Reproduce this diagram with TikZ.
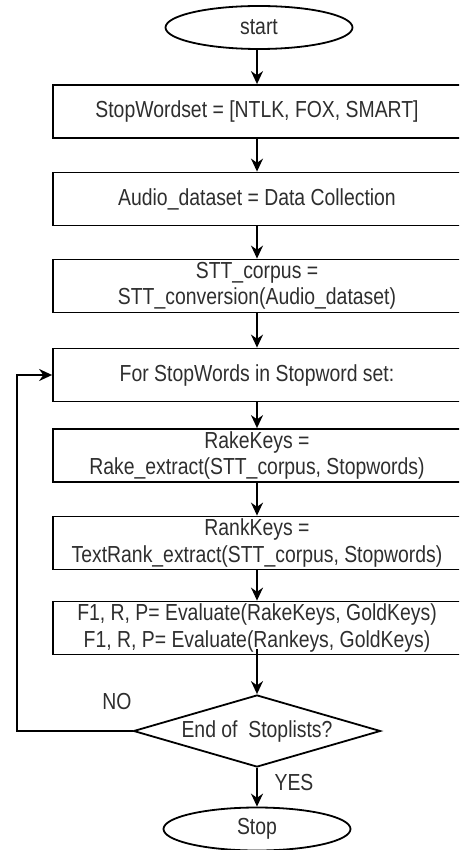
\documentclass[tikz,border=0pt]{standalone}
\usepackage{fontspec}
\setmainfont{Liberation Sans}
\newfontfamily\narrowfont[FakeStretch=0.836]{Liberation Sans}
\usetikzlibrary{shapes.geometric,arrows.meta}
\begin{document}
\begin{tikzpicture}[x=1pt,y=-1pt,
  txt/.style={font=\narrowfont\fontsize{23.2}{26.5}\selectfont, text=black!82},
  box/.style={txt, draw, line width=1.8pt, minimum width=408pt, minimum height=53pt, inner sep=0pt, align=center},
  term/.style={txt, ellipse, draw, line width=1.8pt, minimum width=187pt, minimum height=43pt, inner sep=0pt},
  dec/.style={txt, diamond, draw, line width=1.8pt, aspect=3.43, minimum width=247pt, minimum height=72pt, inner sep=0pt},
  arr/.style={-{Stealth[length=13pt,width=12pt]}, line width=1.8pt},
  lbl/.style={txt}]
\useasboundingbox (0,0) rectangle (459,850);
\clip (0,0) rectangle (459,850);
\node[term] (start) at (259,27.5) {start};
\node[box] (b1) at (257,111.5) {StopWordset = [NTLK, FOX, SMART]};
\node[box] (b2) at (257,199) {Audio\_dataset = Data Collection};
\node[box] (b3) at (257,286) {STT\_corpus =\\STT\_conversion(Audio\_dataset)};
\node[box] (b4) at (257,375) {For StopWords in Stopword set:};
\node[box] (b5) at (257,455.5) {RakeKeys =\\Rake\_extract(STT\_corpus, Stopwords)};
\node[box] (b6) at (257,543) {RankKeys =\\TextRank\_extract(STT\_corpus, Stopwords)};
\node[box] (b7) at (257,628) {F1, R, P= Evaluate(RakeKeys, GoldKeys)\\F1, R, P= Evaluate(Rankeys, GoldKeys)};
\node[dec] (dia) at (257,731) {End of\ \ Stoplists?};
\node[term] (stop) at (257,829) {Stop};
\node[lbl] (no) at (117,702) {NO};
\node[lbl] (yes) at (294,783) {YES};
\coordinate (lp) at (17,731);
\draw[arr] (start.south -| b1.north) -- (b1.north);
\draw[arr] (b1) -- (b2);
\draw[arr] (b2) -- (b3);
\draw[arr] (b3) -- (b4);
\draw[arr] (b4) -- (b5);
\draw[arr] (b5) -- (b6);
\draw[arr] (b6) -- (b7);
\draw[arr] ([yshift=6pt]b7.south) -- (dia.north);
\draw[arr] (dia.south) -- (stop.north);
\draw[arr] (dia.west) -- (lp) |- (b4.west);
\end{tikzpicture}
\end{document}
